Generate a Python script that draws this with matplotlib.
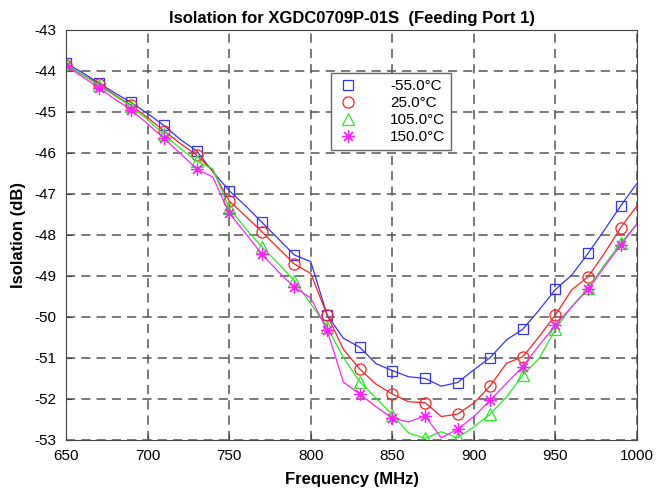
import numpy as np
import matplotlib
matplotlib.use('Agg')
import matplotlib.pyplot as plt

plt.rcParams['font.family'] = ['Liberation Sans', 'DejaVu Sans']
plt.rcParams['axes.unicode_minus'] = False

# Frequency points (MHz), markers drawn on every other point
freq = [650, 660, 670, 680, 690, 700, 710, 720, 730, 740, 750, 760, 770, 780, 790, 800,
        810, 820, 830, 840, 850, 860, 870, 880, 890, 900, 910, 920, 930, 940, 950, 960,
        970, 980, 990, 1000]

iso_m55 = [-43.82, -44.05, -44.30, -44.55, -44.78, -45.05, -45.34, -45.68, -45.96, -46.47,
           -46.93, -47.30, -47.70, -48.10, -48.50, -48.66, -49.96, -50.53, -50.75, -51.15,
           -51.32, -51.47, -51.51, -51.70, -51.61, -51.30, -51.00, -50.57, -50.31, -49.84,
           -49.34, -48.99, -48.46, -47.89, -47.30, -46.75]
iso_25 = [-43.87, -44.10, -44.33, -44.60, -44.85, -45.15, -45.47, -45.78, -46.06, -46.45,
          -47.18, -47.55, -47.93, -48.33, -48.72, -48.95, -49.96, -50.80, -51.28, -51.65,
          -51.89, -52.08, -52.10, -52.44, -52.38, -52.11, -51.69, -51.14, -50.98, -50.49,
          -49.96, -49.35, -49.03, -48.46, -47.83, -47.30]
iso_105 = [-43.85, -44.10, -44.36, -44.62, -44.87, -45.20, -45.56, -45.90, -46.21, -46.40,
           -47.36, -47.85, -48.30, -48.70, -49.13, -49.69, -50.25, -51.00, -51.59, -51.99,
           -52.40, -52.84, -52.97, -52.81, -52.96, -52.69, -52.38, -51.96, -51.43, -51.02,
           -50.31, -49.76, -49.31, -48.74, -48.21, -47.74]
iso_150 = [-43.89, -44.15, -44.42, -44.70, -44.96, -45.30, -45.65, -46.02, -46.40, -46.60,
           -47.47, -47.97, -48.48, -48.90, -49.29, -49.55, -50.33, -51.60, -51.89, -52.20,
           -52.48, -52.57, -52.42, -52.96, -52.75, -52.44, -52.04, -51.63, -51.22, -50.70,
           -50.21, -49.76, -49.34, -48.79, -48.26, -47.74]

labels = ['-55.0°C', '25.0°C', '105.0°C', '150.0°C']
colors = ['#3333ff', '#ff2020', '#22ee22', '#ff22ff']
markers = ['s', 'o', '^', (8, 2, 0)]
sizes = [7, 8, 8, 9]

fig = plt.figure(figsize=(6.57, 4.92), dpi=100)
ax = fig.add_axes([0.1005, 0.1067, 0.8691, 0.8333])

series = [iso_m55, iso_25, iso_105, iso_150]
for y, lab, c, m, ms in zip(series, labels, colors, markers, sizes):
    ax.plot(freq, y, color=c, lw=0.9, marker=m, markevery=2, markersize=ms,
            markerfacecolor='none', markeredgecolor=c, markeredgewidth=0.9, label=lab)

ax.set_xlim(650, 1000)
ax.set_ylim(-53, -43)
ax.set_xticks(np.arange(650, 1001, 50))
ax.set_yticks(np.arange(-53, -42, 1))
ax.grid(True, color='#555555', linestyle=(0, (6, 4)), linewidth=1.1)
ax.tick_params(direction='in', length=4, color='#444444', labelsize=11, pad=7)
for s in ax.spines.values():
    s.set_color('#444444')

ax.set_xlabel('Frequency (MHz)', fontsize=12, fontweight='bold', labelpad=6)
ax.set_ylabel('Isolation (dB)', fontsize=12, fontweight='bold', labelpad=6)
ax.set_title('Isolation for XGDC0709P-01S  (Feeding Port 1)', fontsize=12,
             fontweight='bold', pad=5)

leg = ax.legend(loc='upper left', bbox_to_anchor=(0.45, 0.913), fontsize=11,
                fancybox=False, framealpha=1, edgecolor='#666666',
                handlelength=1.5, handletextpad=2.0, borderpad=0.4, labelspacing=0.2)
for h in leg.get_lines():
    h.set_linestyle('none')

fig.savefig('out.png', dpi=100)
